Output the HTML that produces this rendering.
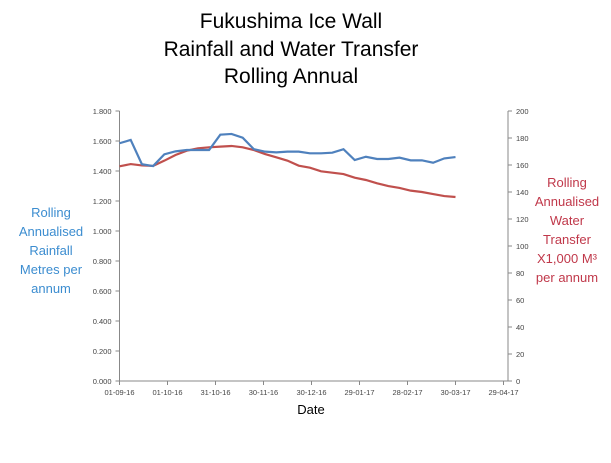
<!DOCTYPE html>
<html><head><meta charset="utf-8"><style>
body{margin:0;background:#fff;font-family:"Liberation Sans",sans-serif}
svg text{font-family:"Liberation Sans","DejaVu Sans",sans-serif}
</style></head><body>
<svg width="611" height="458" viewBox="0 0 611 458">
<g font-size="21" text-anchor="middle" fill="#000">
<text x="291" y="28">Fukushima Ice Wall</text>
<text x="291" y="56">Rainfall and Water Transfer</text>
<text x="291" y="83">Rolling Annual</text>
</g>
<g id="axes"></g>
<g id="series"></g>
<g font-size="13" fill="#3c8dd0" text-anchor="middle">
<text x="51" y="217">Rolling</text><text x="51" y="236">Annualised</text><text x="51" y="255">Rainfall</text><text x="51" y="274">Metres per</text><text x="51" y="293">annum</text>
</g>
<g font-size="13" fill="#c0384a" text-anchor="middle">
<text x="567" y="187">Rolling</text><text x="567" y="206">Annualised</text><text x="567" y="225">Water</text><text x="567" y="244">Transfer</text><text x="567" y="263">X1,000 M³</text><text x="567" y="282">per annum</text>
</g>
<text x="311" y="414" font-size="13" text-anchor="middle">Date</text>
</svg>
<script>
const rainfall=[1.585,1.607,1.445,1.433,1.511,1.531,1.54,1.54,1.54,1.642,1.647,1.622,1.545,1.529,1.524,1.529,1.529,1.518,1.518,1.522,1.545,1.473,1.495,1.48,1.48,1.489,1.471,1.471,1.455,1.484,1.493];
const transfer=[159.0,160.7,159.7,159.3,163.2,167.4,170.6,172.3,173.1,173.6,174.1,173.1,171.1,168.1,165.7,163.2,159.5,158.0,155.3,154.3,153.3,150.6,148.9,146.4,144.4,143.0,141.0,140.0,138.5,137.0,136.3];
const xTickLabels=["01-09-16","01-10-16","31-10-16","30-11-16","30-12-16","29-01-17","28-02-17","30-03-17","29-04-17"];
const leftTicks=[0,0.2,0.4,0.6,0.8,1.0,1.2,1.4,1.6,1.8];
const rightTicks=[0,20,40,60,80,100,120,140,160,180,200];
const NS="http://www.w3.org/2000/svg";
const X0=119.5,X1=503.5,DAYS=240,Y0=381,Y1=111,XR=508;
const xs=d=>X0+(X1-X0)*d/DAYS;
const yl=v=>Y0-(Y0-Y1)*v/1.8;
const yr=v=>Y0-(Y0-Y1)*v/200;
function mk(t,a,p){const e=document.createElementNS(NS,t);for(const k in a)e.setAttribute(k,a[k]);p.appendChild(e);return e;}
const ax=document.getElementById('axes');
let l=mk('line',{x1:X0,y1:Y1,x2:X0,y2:Y0,stroke:'#888'},ax);


l=mk('line',{x1:XR,y1:Y1,x2:XR,y2:Y0,stroke:'#888'},ax);


l=mk('line',{x1:X0,y1:Y0,x2:XR,y2:Y0,stroke:'#888'},ax);


leftTicks.forEach(v=>{const y=yl(v);mk('line',{x1:X0-4,y1:y,x2:X0,y2:y,stroke:'#888'},ax);
const t=mk('text',{x:X0-8,y:y+3,'font-size':7.5,'text-anchor':'end',fill:'#444'},ax);t.textContent=v.toFixed(3);

});
rightTicks.forEach(v=>{const y=yr(v);mk('line',{x1:XR,y1:y,x2:XR+4,y2:y,stroke:'#888'},ax);
const t=mk('text',{x:XR+8,y:y+3,'font-size':7.5,fill:'#444'},ax);t.textContent=v;

});
xTickLabels.forEach((s,i)=>{const x=xs(i*30);mk('line',{x1:x,y1:Y0,x2:x,y2:Y0+4,stroke:'#888'},ax);
const t=mk('text',{x:x,y:Y0+14,'font-size':7.5,'text-anchor':'middle',fill:'#444'},ax);t.textContent=s;

});
const sg=document.getElementById('series');
let p=mk('polyline',{points:transfer.map((v,i)=>xs(i*7)+','+yr(v)).join(' '),fill:'none',stroke:'#c0504d','stroke-width':2.2},sg);


p=mk('polyline',{points:rainfall.map((v,i)=>xs(i*7)+','+yl(v)).join(' '),fill:'none',stroke:'#4f81bd','stroke-width':2.2},sg);


</script>
</body></html>
